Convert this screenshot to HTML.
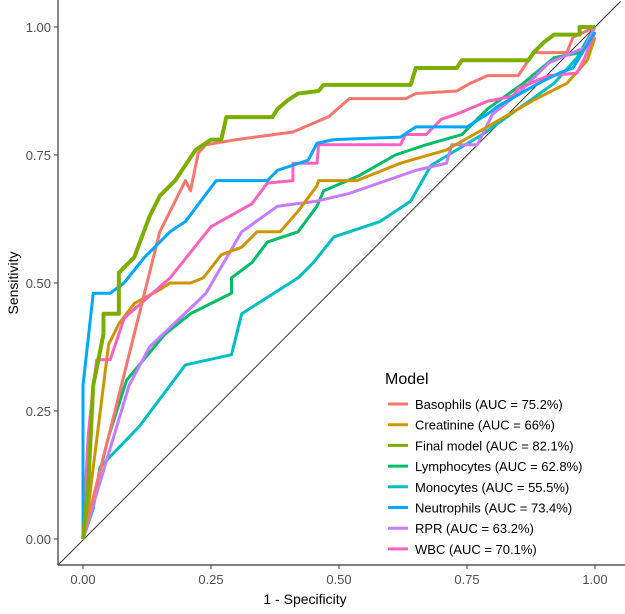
<!DOCTYPE html>
<html><head><meta charset="utf-8"><style>
body{margin:0;background:#fff;}
svg text{font-family:"Liberation Sans",sans-serif;}
</style></head><body>
<svg id="chart" width="625" height="609">
<g id="marks"></g>
<line x1="58" y1="0" x2="58" y2="565" stroke="#333" stroke-width="1.2"/>
<line x1="58" y1="565" x2="625" y2="565" stroke="#333" stroke-width="1.2"/>
<g id="ticks"></g>
<text x="305" y="604" font-size="14" text-anchor="middle" fill="#000">1 - Specificity</text>
<text x="18" y="283" font-size="14" text-anchor="middle" fill="#000" transform="rotate(-90 18 283)">Sensitivity</text>
<g id="legend">
<text x="385" y="384" font-size="16" fill="#000">Model</text>
</g>
</svg>
<script>
const seriesNames=["Basophils (AUC = 75.2%)","Creatinine (AUC = 66%)","Final model (AUC = 82.1%)","Lymphocytes (AUC = 62.8%)","Monocytes (AUC = 55.5%)","Neutrophils (AUC = 73.4%)","RPR (AUC = 63.2%)","WBC (AUC = 70.1%)"];
const colors=["#F8766D","#CD9600","#7CAE00","#00BE67","#00BFC4","#00A9FF","#C77CFF","#FF61C3"];
const tickValues=[0,0.25,0.5,0.75,1];
const tickLabels=["0.00","0.25","0.50","0.75","1.00"];
const basophils=[[0,0],[0.05,0.2],[0.1,0.4],[0.15,0.6],[0.2,0.7],[0.21,0.68],[0.225,0.754],[0.24,0.77],[0.3,0.78],[0.41,0.795],[0.48,0.825],[0.52,0.86],[0.63,0.86],[0.65,0.87],[0.73,0.875],[0.756,0.89],[0.79,0.905],[0.85,0.905],[0.88,0.95],[0.945,0.95],[0.957,0.98],[1,1]];
const creatinine=[[0,0],[0.01,0.06],[0.04,0.3],[0.05,0.38],[0.07,0.42],[0.1,0.46],[0.15,0.487],[0.17,0.5],[0.21,0.5],[0.235,0.51],[0.27,0.555],[0.31,0.57],[0.34,0.6],[0.385,0.6],[0.42,0.64],[0.457,0.69],[0.46,0.7],[0.535,0.7],[0.62,0.734],[0.71,0.76],[0.79,0.805],[0.88,0.857],[0.945,0.89],[0.985,0.935],[1,0.98]];
const finalModel=[[0,0],[0.01,0.1],[0.02,0.3],[0.04,0.4],[0.04,0.44],[0.07,0.44],[0.07,0.52],[0.1,0.55],[0.13,0.63],[0.15,0.67],[0.18,0.7],[0.2,0.73],[0.22,0.76],[0.25,0.78],[0.27,0.78],[0.28,0.824],[0.37,0.824],[0.38,0.84],[0.4,0.857],[0.42,0.87],[0.46,0.875],[0.47,0.887],[0.64,0.887],[0.65,0.92],[0.73,0.92],[0.74,0.935],[0.87,0.935],[0.88,0.95],[0.9,0.97],[0.92,0.985],[0.97,0.985],[0.97,1],[1,1]];
const lymphocytes=[[0,0],[0.03,0.12],[0.05,0.2],[0.085,0.31],[0.16,0.4],[0.21,0.44],[0.29,0.48],[0.29,0.51],[0.33,0.54],[0.36,0.58],[0.42,0.6],[0.457,0.65],[0.47,0.68],[0.54,0.71],[0.61,0.75],[0.67,0.77],[0.74,0.79],[0.79,0.84],[0.86,0.89],[0.92,0.94],[0.97,0.95],[1,1]];
const monocytes=[[0,0],[0.02,0.06],[0.033,0.14],[0.11,0.22],[0.2,0.34],[0.29,0.36],[0.31,0.44],[0.42,0.51],[0.45,0.54],[0.49,0.59],[0.58,0.62],[0.64,0.66],[0.68,0.73],[0.78,0.79],[0.85,0.84],[0.92,0.89],[0.965,0.94],[1,1]];
const neutrophils=[[0,0],[0,0.3],[0.02,0.48],[0.053,0.48],[0.08,0.5],[0.12,0.55],[0.17,0.6],[0.2,0.62],[0.26,0.7],[0.36,0.7],[0.38,0.72],[0.44,0.74],[0.457,0.773],[0.49,0.78],[0.62,0.785],[0.65,0.805],[0.75,0.805],[0.79,0.83],[0.81,0.845],[0.89,0.89],[0.93,0.91],[0.957,0.92],[1,0.99]];
const rpr=[[0,0],[0.03,0.1],[0.06,0.2],[0.09,0.3],[0.13,0.375],[0.23,0.47],[0.24,0.48],[0.31,0.6],[0.38,0.65],[0.457,0.66],[0.52,0.675],[0.65,0.72],[0.71,0.734],[0.72,0.77],[0.77,0.77],[0.8,0.83],[0.85,0.87],[0.91,0.93],[0.98,0.96],[1,1]];
const wbc=[[0,0],[0.01,0.2],[0.02,0.3],[0.027,0.35],[0.053,0.35],[0.08,0.43],[0.09,0.44],[0.17,0.51],[0.25,0.61],[0.33,0.655],[0.36,0.695],[0.41,0.7],[0.41,0.734],[0.457,0.734],[0.46,0.77],[0.62,0.77],[0.63,0.79],[0.67,0.79],[0.7,0.82],[0.73,0.83],[0.79,0.855],[0.84,0.865],[0.85,0.88],[0.91,0.905],[0.965,0.91],[0.98,0.94],[1,0.99]];
const allSeries=[basophils,creatinine,finalModel,lymphocytes,monocytes,neutrophils,rpr,wbc];
const NS="http://www.w3.org/2000/svg";
const xs=v=>83+512*v, ys=v=>539-512*v;
const marks=document.getElementById('marks');
const diag=document.createElementNS(NS,'line');
diag.setAttribute('x1',xs(-0.049));diag.setAttribute('y1',ys(-0.051));diag.setAttribute('x2',xs(1.05));diag.setAttribute('y2',ys(1.05));
diag.setAttribute('stroke','#333');diag.setAttribute('stroke-width','1');


marks.appendChild(diag);
const order=[4,3,6,1,7,0,5,2];
order.forEach(i=>{
  const p=document.createElementNS(NS,'polyline');
  p.setAttribute('points',allSeries[i].map(d=>xs(d[0])+','+ys(d[1])).join(' '));
  p.setAttribute('fill','none');p.setAttribute('stroke',colors[i]);
  p.setAttribute('stroke-width',i===2?'4':'3');p.setAttribute('stroke-linejoin','round');
  
  
  marks.appendChild(p);
});
const ticks=document.getElementById('ticks');
tickValues.forEach((v,k)=>{
  const t1=document.createElementNS(NS,'line');
  t1.setAttribute('x1',xs(v));t1.setAttribute('x2',xs(v));t1.setAttribute('y1',565);t1.setAttribute('y2',569);t1.setAttribute('stroke','#333');
  
  
  ticks.appendChild(t1);
  const l1=document.createElementNS(NS,'text');
  l1.setAttribute('x',xs(v));l1.setAttribute('y',584);l1.setAttribute('font-size','13');l1.setAttribute('text-anchor','middle');l1.setAttribute('fill','#4d4d4d');
  l1.textContent=tickLabels[k];
  
  
  ticks.appendChild(l1);
  const t2=document.createElementNS(NS,'line');
  t2.setAttribute('x1',54);t2.setAttribute('x2',58);t2.setAttribute('y1',ys(v));t2.setAttribute('y2',ys(v));t2.setAttribute('stroke','#333');
  
  
  ticks.appendChild(t2);
  const l2=document.createElementNS(NS,'text');
  l2.setAttribute('x',51);l2.setAttribute('y',ys(v)+5);l2.setAttribute('font-size','13');l2.setAttribute('text-anchor','end');l2.setAttribute('fill','#4d4d4d');
  l2.textContent=tickLabels[k];
  
  
  ticks.appendChild(l2);
});
const legend=document.getElementById('legend');
seriesNames.forEach((n,i)=>{
  const y=404+i*20.7;
  const l=document.createElementNS(NS,'line');
  l.setAttribute('x1',388);l.setAttribute('x2',408);l.setAttribute('y1',y);l.setAttribute('y2',y);
  l.setAttribute('stroke',colors[i]);l.setAttribute('stroke-width','3');
  
  
  legend.appendChild(l);
  const t=document.createElementNS(NS,'text');
  t.setAttribute('x',415);t.setAttribute('y',y+5);t.setAttribute('font-size','13');t.setAttribute('fill','#000');
  t.textContent=n;
  
  
  legend.appendChild(t);
});
</script>
</body></html>
